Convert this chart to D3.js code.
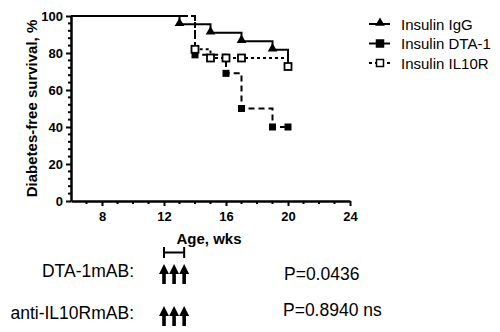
<!DOCTYPE html>
<html>
<head>
  <script src="https://d3js.org/d3.v7.min.js"></script>
  <style>
    body { margin: 0; background: #fff; }
    text { font-family: "Liberation Sans", Arial, sans-serif; }
  </style>
</head>
<body>
<svg width="500" height="332"></svg>
<script>
  // Kaplan-Meier style survival data (weeks, % diabetes-free)
  const igGWeeks = [6, 13, 15, 17, 19, 20];
  const igGSurv = [100, 95.5, 90.9, 86.4, 81.8, 72.7];
  const igGMarks = [13, 15, 17, 19];

  const dtaWeeks = [6, 14, 16, 17, 19, 20];
  const dtaSurv = [100, 79, 69, 50, 40, 40];
  const dtaMarks = [14, 16, 17, 19, 20];

  const il10Weeks = [6, 14, 15, 20];
  const il10Surv = [100, 82, 77.3, 72.7];
  const il10Marks = [14, 15, 16, 17, 20];

  const xTicks = [8, 12, 16, 20, 24];
  const yTicks = [0, 20, 40, 60, 80, 100];
  const doseWeeks = [12, 12.65, 13.3];

  const legendNames = ["Insulin IgG", "Insulin DTA-1", "Insulin IL10R"];

  const svg = d3.select("svg");
  const x = d3.scaleLinear().domain([6, 24]).range([71, 350]);
  const y = d3.scaleLinear().domain([0, 100]).range([201, 16]);

  // minor ticks
  const g = svg.append("g");
  g.selectAll(".xminor")
    .data(d3.range(7, 24, 1).filter(d => d % 4 != 0))
    .enter().append("line")
    .attr("x1", d => x(d)).attr("x2", d => x(d))
    .attr("y1", y(0)).attr("y2", y(0) + 3)
    .attr("stroke", "black").attr("stroke-width", 2);
  g.selectAll(".yminor")
    .data(d3.range(4, 100, 4).filter(d => d % 20 != 0))
    .enter().append("line")
    .attr("x1", x(6) - 3).attr("x2", x(6))
    .attr("y1", d => y(d)).attr("y2", d => y(d))
    .attr("stroke", "black").attr("stroke-width", 2);

  // axes
  const xAxis = svg.append("g")
    .attr("transform", "translate(0," + y(0) + ")")
    .call(d3.axisBottom(x).tickValues(xTicks).tickSize(5).tickSizeOuter(0));
  const yAxis = svg.append("g")
    .attr("transform", "translate(" + x(6) + ",0)")
    .call(d3.axisLeft(y).tickValues(yTicks).tickSize(5).tickSizeOuter(0));
  [xAxis, yAxis].forEach(a => {
    a.select(".domain").attr("stroke-width", 2.5);
    a.selectAll(".tick line").attr("stroke-width", 2);
    a.selectAll("text").style("font-size", "13px").style("font-weight", "bold")
      .style("font-family", "'Liberation Sans', Arial, sans-serif");
  });
  xAxis.selectAll("text").attr("dy", "0.92em");

  // axis titles
  svg.append("text")
    .attr("transform", "translate(37,108.5) rotate(-90)")
    .attr("text-anchor", "middle")
    .style("font-size", "15px").style("font-weight", "bold")
    .text("Diabetes-free survival, %");
  svg.append("text")
    .attr("x", 209).attr("y", 244)
    .attr("text-anchor", "middle")
    .style("font-size", "15px").style("font-weight", "bold")
    .text("Age, wks");

  const line = d3.line().x(d => x(d[0])).y(d => y(d[1])).curve(d3.curveStepAfter);
  const valueAt = (weeks, surv, w) => surv[d3.bisectRight(weeks, w) - 1];

  // curves
  svg.append("path")
    .attr("d", line(d3.zip(il10Weeks, il10Surv)))
    .attr("fill", "none").attr("stroke", "black").attr("stroke-width", 2)
    .attr("stroke-dasharray", "3,3");
  svg.append("path")
    .attr("d", line(d3.zip(dtaWeeks, dtaSurv)))
    .attr("fill", "none").attr("stroke", "black").attr("stroke-width", 2)
    .attr("stroke-dasharray", "6,4");
  svg.append("path")
    .attr("d", line(d3.zip(igGWeeks, igGSurv)))
    .attr("fill", "none").attr("stroke", "black").attr("stroke-width", 2);

  // markers
  const tri = d3.symbol().type(d3.symbolTriangle).size(40);
  svg.selectAll(".igm").data(igGMarks).enter().append("path")
    .attr("d", tri)
    .attr("transform", d => "translate(" + x(d) + "," + (y(valueAt(igGWeeks, igGSurv, d)) - 1) + ")")
    .attr("fill", "black");
  svg.selectAll(".dtm").data(dtaMarks).enter().append("rect")
    .attr("x", d => x(d) - 3.5).attr("y", d => y(valueAt(dtaWeeks, dtaSurv, d)) - 3.5)
    .attr("width", 7).attr("height", 7).attr("fill", "black");
  svg.selectAll(".ilm").data(il10Marks).enter().append("rect")
    .attr("x", d => x(d) - 3.5).attr("y", d => y(valueAt(il10Weeks, il10Surv, d)) - 3.5)
    .attr("width", 7).attr("height", 7).attr("fill", "white")
    .attr("stroke", "black").attr("stroke-width", 1.8);

  // legend
  const leg = svg.append("g");
  legendNames.forEach((name, i) => {
    const ly = 24 + i * 19.5;
    leg.append("line").attr("x1", 369).attr("x2", 390).attr("y1", ly).attr("y2", ly)
      .attr("stroke", "black").attr("stroke-width", 2)
      .attr("stroke-dasharray", i == 2 ? "3,3" : null);
    if (i == 0) {
      leg.append("path").attr("d", tri).attr("transform", "translate(380," + (ly - 1) + ")").attr("fill", "black");
    } else {
      leg.append("rect").attr("x", 376.5).attr("y", ly - 3.5).attr("width", 7).attr("height", 7)
        .attr("fill", i == 1 ? "black" : "white").attr("stroke", "black").attr("stroke-width", 1.5);
    }
    leg.append("text").attr("x", 401).attr("y", ly + 5.5)
      .style("font-size", "15px").text(name);
  });

  // dosing annotation
  svg.append("path")
    .attr("d", "M" + x(doseWeeks[0]) + ",247V258M" + x(doseWeeks[0]) + ",252.5H" + x(doseWeeks[2]) + "M" + x(doseWeeks[2]) + ",247V258")
    .attr("fill", "none").attr("stroke", "black").attr("stroke-width", 2);

  const arrowRows = [{ top: 264, label: "DTA-1mAB:", ly: 277, p: "P=0.0436", px: 284, py: 280 },
                     { top: 306, label: "anti-IL10RmAB:", ly: 319, p: "P=0.8940 ns", px: 283, py: 316 }];
  arrowRows.forEach(r => {
    svg.selectAll(null).data(doseWeeks).enter().append("path")
      .attr("d", d => "M" + x(d) + "," + r.top + "l-5,10h3.2v10h3.6v-10h3.2z")
      .attr("fill", "black");
    svg.append("text").attr("x", 134).attr("y", r.ly).attr("text-anchor", "end")
      .style("font-size", "17.5px").text(r.label);
    svg.append("text").attr("x", r.px).attr("y", r.py)
      .style("font-size", "17.5px").text(r.p);
  });
</script>
</body>
</html>
